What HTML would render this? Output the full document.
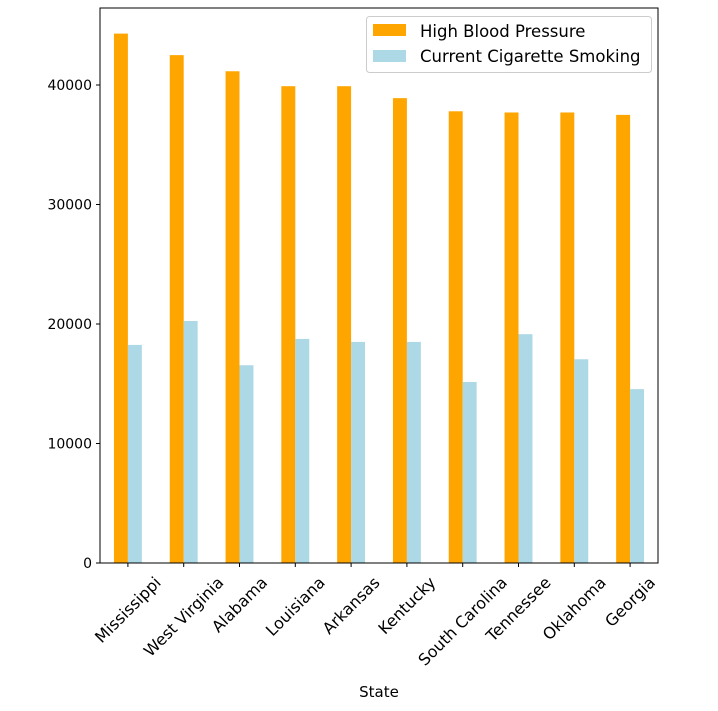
<!DOCTYPE html>
<html><head><meta charset="utf-8"><style>
body{margin:0;background:#fff;}
text{font-family:"DejaVu Sans","Liberation Sans",sans-serif;font-size:14px;fill:#000;}
</style></head><body>
<svg width="718" height="706">
<g id="bars"></g>
<rect x="100" y="8" width="558" height="555" fill="none" stroke="#000" stroke-width="1"/>
<g id="yaxis"></g><g id="xaxis"></g>
<text x="379" y="697" text-anchor="middle" style="font-size:15px">State</text>
<g>
<rect x="366.5" y="16.5" width="285" height="56" fill="#fff" stroke="#ccc" rx="3"/>
<rect x="373" y="24" width="33" height="12" fill="orange"/>
<text x="420" y="37" style="font-size:16.5px">High Blood Pressure</text>
<rect x="373" y="50" width="33" height="12" fill="lightblue"/>
<text x="420" y="62" style="font-size:16.5px">Current Cigarette Smoking</text>
</g>
</svg>
<script>
const states=["Mississippi","West Virginia","Alabama","Louisiana","Arkansas","Kentucky","South Carolina","Tennessee","Oklahoma","Georgia"];
const highBP=[44300,42500,41150,39900,39900,38900,37800,37700,37700,37500];
const smoking=[18250,20250,16550,18750,18500,18500,15150,19150,17050,14550];
const yTicks=[0,10000,20000,30000,40000];
const NS="http://www.w3.org/2000/svg";
const L=100,R=658,B=563,scale=119.5/10000;
const y=v=>B-v*scale;
const gw=(R-L)/states.length;
const x=i=>L+gw*(i+0.5);
function mk(t,a,p){const e=document.createElementNS(NS,t);for(const k in a)e.setAttribute(k,a[k]);p.appendChild(e);return e;}
const bars=document.getElementById('bars'),xa=document.getElementById('xaxis'),ya=document.getElementById('yaxis');
const bw=gw*0.25;
states.forEach((s,i)=>{
 const b1=mk('rect',{x:x(i)-bw,y:y(highBP[i]),width:bw,height:highBP[i]*scale,fill:'orange'},bars);
 
 
 const b2=mk('rect',{x:x(i),y:y(smoking[i]),width:bw,height:smoking[i]*scale,fill:'lightblue'},bars);
 
 
 mk('line',{x1:x(i),x2:x(i),y1:B,y2:B+4,stroke:'#000'},xa);
 const t=mk('text',{x:x(i),y:0,'text-anchor':'middle','dominant-baseline':'central',style:'font-size:16px'},xa);
 t.textContent=s;
 
 
 const w=t.getComputedTextLength();
 const cy=B+11+(w+16)*0.7071/2;
 t.setAttribute('y',cy);
 t.setAttribute('transform',`rotate(-45 ${x(i)} ${cy})`);
});
yTicks.forEach(v=>{
 mk('line',{x1:L-4,x2:L,y1:y(v),y2:y(v),stroke:'#000'},ya);
 const t=mk('text',{x:L-8,y:y(v)+5,'text-anchor':'end'},ya);
 t.textContent=v;
 
 
});
</script>
</body></html>
